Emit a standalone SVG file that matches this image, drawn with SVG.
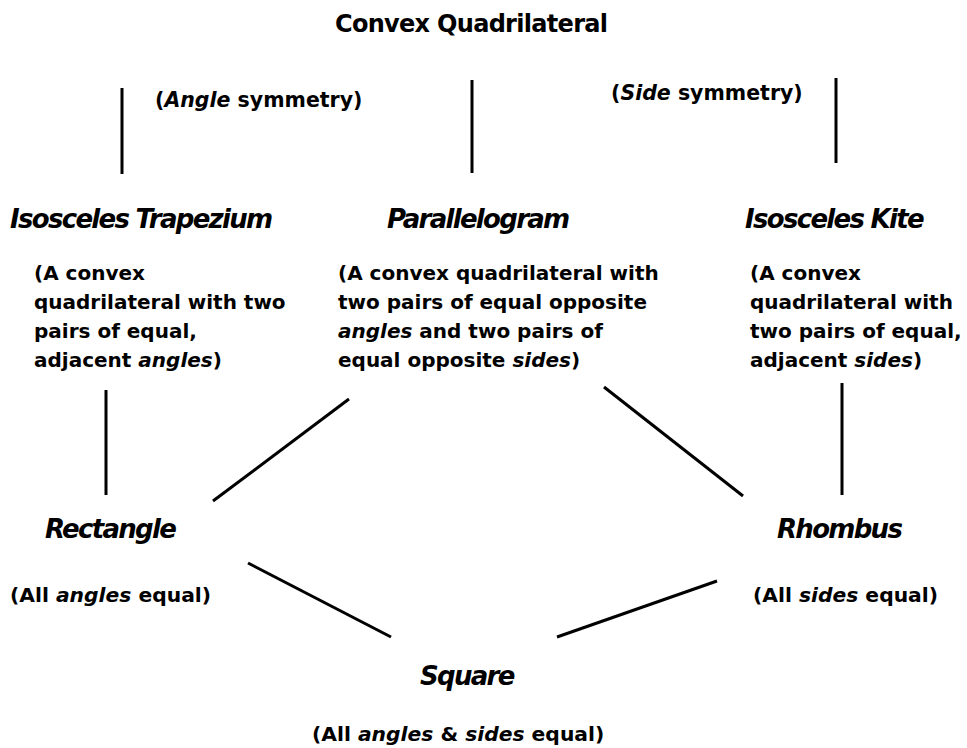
<svg xmlns="http://www.w3.org/2000/svg" width="967" height="748" viewBox="0 0 967 748">
<style>
text { font-family: "DejaVu Sans", Verdana, sans-serif; fill: #000; font-weight: bold; }
.title { font-size: 24px; letter-spacing: -0.7px; }
.name { font-size: 26px; font-style: italic; letter-spacing: -1.7px; }
.desc { font-size: 20px; }
.bdesc { font-size: 20.3px; }
.lbl { font-size: 20.5px; }
.i { font-style: italic; }
.edge { stroke: #000; stroke-width: 3; fill: none; }
</style>
<rect width="967" height="748" fill="#fff"/>

<g id="connectors">
  <line class="edge" x1="122" y1="88" x2="122" y2="174"/>
  <line class="edge" x1="472" y1="80" x2="472" y2="173"/>
  <line class="edge" x1="836" y1="78" x2="836" y2="163"/>
  <line class="edge" x1="106" y1="390" x2="106" y2="495"/>
  <line class="edge" x1="349" y1="399" x2="213" y2="501"/>
  <line class="edge" x1="604" y1="387" x2="743" y2="496"/>
  <line class="edge" x1="842" y1="383" x2="842" y2="495"/>
  <line class="edge" x1="248" y1="563" x2="391" y2="637"/>
  <line class="edge" x1="557" y1="637" x2="717" y2="581"/>
  <text class="lbl" x="155" y="107">(<tspan class="i">Angle</tspan> symmetry)</text>
  <text class="lbl" x="611" y="100">(<tspan class="i">Side</tspan> symmetry)</text>
</g>

<g id="convex-quadrilateral">
  <text class="title" x="335" y="32">Convex Quadrilateral</text>
</g>

<g id="isosceles-trapezium">
  <text class="name" x="10" y="228">Isosceles Trapezium</text>
  <text class="desc">
    <tspan x="34" y="280">(A convex</tspan>
    <tspan x="34" y="309">quadrilateral with two</tspan>
    <tspan x="34" y="338">pairs of equal,</tspan>
    <tspan x="34" y="367">adjacent <tspan class="i">angles</tspan>)</tspan>
  </text>
</g>

<g id="parallelogram">
  <text class="name" x="387" y="228">Parallelogram</text>
  <text class="desc">
    <tspan x="338" y="280">(A convex quadrilateral with</tspan>
    <tspan x="338" y="309">two pairs of equal opposite</tspan>
    <tspan x="338" y="338"><tspan class="i">angles</tspan> and two pairs of</tspan>
    <tspan x="338" y="367">equal opposite <tspan class="i">sides</tspan>)</tspan>
  </text>
</g>

<g id="isosceles-kite">
  <text class="name" x="745" y="228">Isosceles Kite</text>
  <text class="desc">
    <tspan x="750" y="280">(A convex</tspan>
    <tspan x="750" y="309">quadrilateral with</tspan>
    <tspan x="750" y="338">two pairs of equal,</tspan>
    <tspan x="750" y="367">adjacent <tspan class="i">sides</tspan>)</tspan>
  </text>
</g>

<g id="rectangle">
  <text class="name" x="45" y="538">Rectangle</text>
  <text class="bdesc" x="10" y="602">(All <tspan class="i">angles</tspan> equal)</text>
</g>

<g id="rhombus">
  <text class="name" x="777" y="538">Rhombus</text>
  <text class="bdesc" x="753" y="602">(All <tspan class="i">sides</tspan> equal)</text>
</g>

<g id="square">
  <text class="name" x="420" y="685">Square</text>
  <text class="bdesc" x="312" y="741">(All <tspan class="i">angles</tspan> &amp; <tspan class="i">sides</tspan> equal)</text>
</g>
</svg>
